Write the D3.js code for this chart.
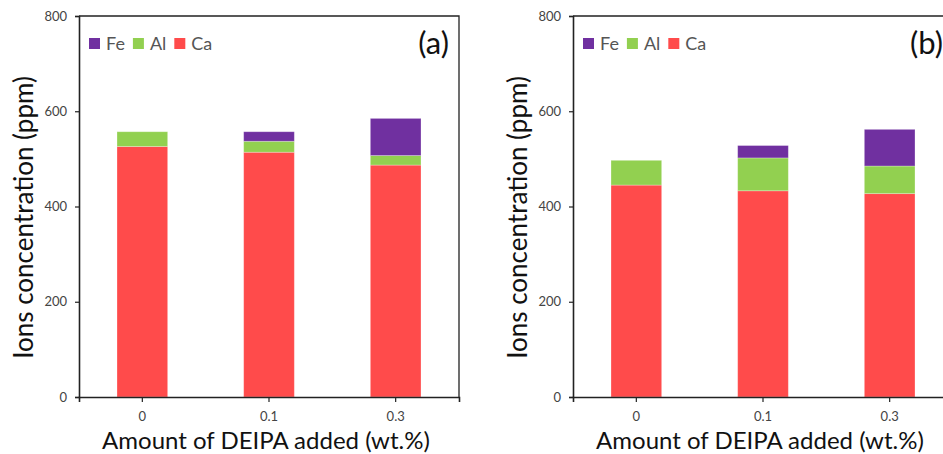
<!DOCTYPE html>
<html>
<head>
<meta charset="utf-8">
<script src="https://cdn.jsdelivr.net/npm/d3@7"></script>
<style>
  body { margin: 0; background: #fff; }
  svg { display: block; font-family: Lato, "Noto Sans", sans-serif; }
</style>
</head>
<body>
<div id="chart"></div>
<script>
// data
const categories = ["0", "0.1", "0.3"];
const seriesNames = ["Ca", "Al", "Fe"];
const legendOrder = ["Fe", "Al", "Ca"];
const yTicks = [0, 200, 400, 600, 800];

const caA = [526, 514, 487];
const alA = [31, 23, 20];
const feA = [0, 20, 78];

const caB = [445, 433, 427];
const alB = [52, 69, 58];
const feB = [0, 26, 77];

const colors = { Fe: "#7030a0", Al: "#92d050", Ca: "#ff4b4b" };

const W = 943, H = 454;
const svg = d3.select("#chart")
    .append("svg")
    .attr("width", W)
    .attr("height", H);

function panel(left, ca, al, fe, tag) {
    const width = 380, top = 16, bottom = 397;
    const rows = categories.map((c, i) => ({ cat: c, Ca: ca[i], Al: al[i], Fe: fe[i] }));

    const x = d3.scaleBand()
        .domain(categories)
        .range([left, left + width])
        .paddingInner(0.6)
        .paddingOuter(0.3);

    const y = d3.scaleLinear()
        .domain([0, 800])
        .range([bottom, top]);

    const stacked = d3.stack().keys(seriesNames)(rows);

    const g = svg.append("g");

    g.selectAll(".layer")
        .data(stacked)
        .enter()
        .append("g")
        .attr("fill", (d) => colors[d.key])
        .selectAll("rect")
        .data((d) => d.filter((p) => p[1] - p[0] > 0))
        .enter()
        .append("rect")
        .attr("x", (d) => x(d.data.cat))
        .attr("y", (d) => y(d[1]))
        .attr("width", x.bandwidth())
        .attr("height", (d) => y(d[0]) - y(d[1]))
        .attr("stroke", "#ffffff")
        .attr("stroke-opacity", 0.35)
        .attr("stroke-width", 0.8);

    // frame (top and right)
    g.append("path")
        .attr("d", `M${left},${top}H${left + width}V${bottom}`)
        .attr("fill", "none")
        .attr("stroke", "#222")
        .attr("stroke-width", 1.3);

    const yAxis = g.append("g")
        .attr("transform", `translate(${left},0)`)
        .call(d3.axisLeft(y).tickValues(yTicks).tickSize(4).tickPadding(8));

    const xAxis = g.append("g")
        .attr("transform", `translate(0,${bottom})`)
        .call(d3.axisBottom(x).tickSize(5).tickPadding(10));

    [yAxis, xAxis].forEach((a) => {
        a.select(".domain").attr("stroke", "#222").attr("stroke-width", 1.6);
        a.selectAll(".tick line").attr("stroke", "#222").attr("stroke-width", 1.2);
        a.selectAll(".tick text")
            .attr("fill", "#444")
            .style("font-size", "13px")
            .style("font-family", "Lato, sans-serif");
    });

    // legend
    let lx = left + 10;
    legendOrder.forEach((k) => {
        g.append("rect")
            .attr("x", lx)
            .attr("y", 38)
            .attr("width", 11)
            .attr("height", 11)
            .attr("fill", colors[k]);
        const t = g.append("text")
            .attr("x", lx + 17)
            .attr("y", 49.5)
            .attr("fill", "#555")
            .style("font-size", "18px")
            .text(k);
        lx += 17 + t.node().getComputedTextLength() + 8;
    });

    g.append("text")
        .attr("x", left + width - 10)
        .attr("y", 54)
        .attr("text-anchor", "end")
        .attr("fill", "#111")
        .style("font-size", "31px")
        .text(tag);

    g.append("text")
        .attr("x", left + width / 2 - 3)
        .attr("y", 449)
        .attr("text-anchor", "middle")
        .attr("fill", "#111")
        .style("font-size", "24px")
        .text("Amount of DEIPA added (wt.%)");

    g.append("text")
        .attr("transform", `translate(${left - 46},${(top + bottom) / 2 + 11}) rotate(-90)`)
        .attr("text-anchor", "middle")
        .attr("fill", "#111")
        .style("font-size", "26px")
        .text("Ions concentration (ppm)");
}

panel(79, caA, alA, feA, "(a)");
panel(573, caB, alB, feB, "(b)");
</script>
</body>
</html>
